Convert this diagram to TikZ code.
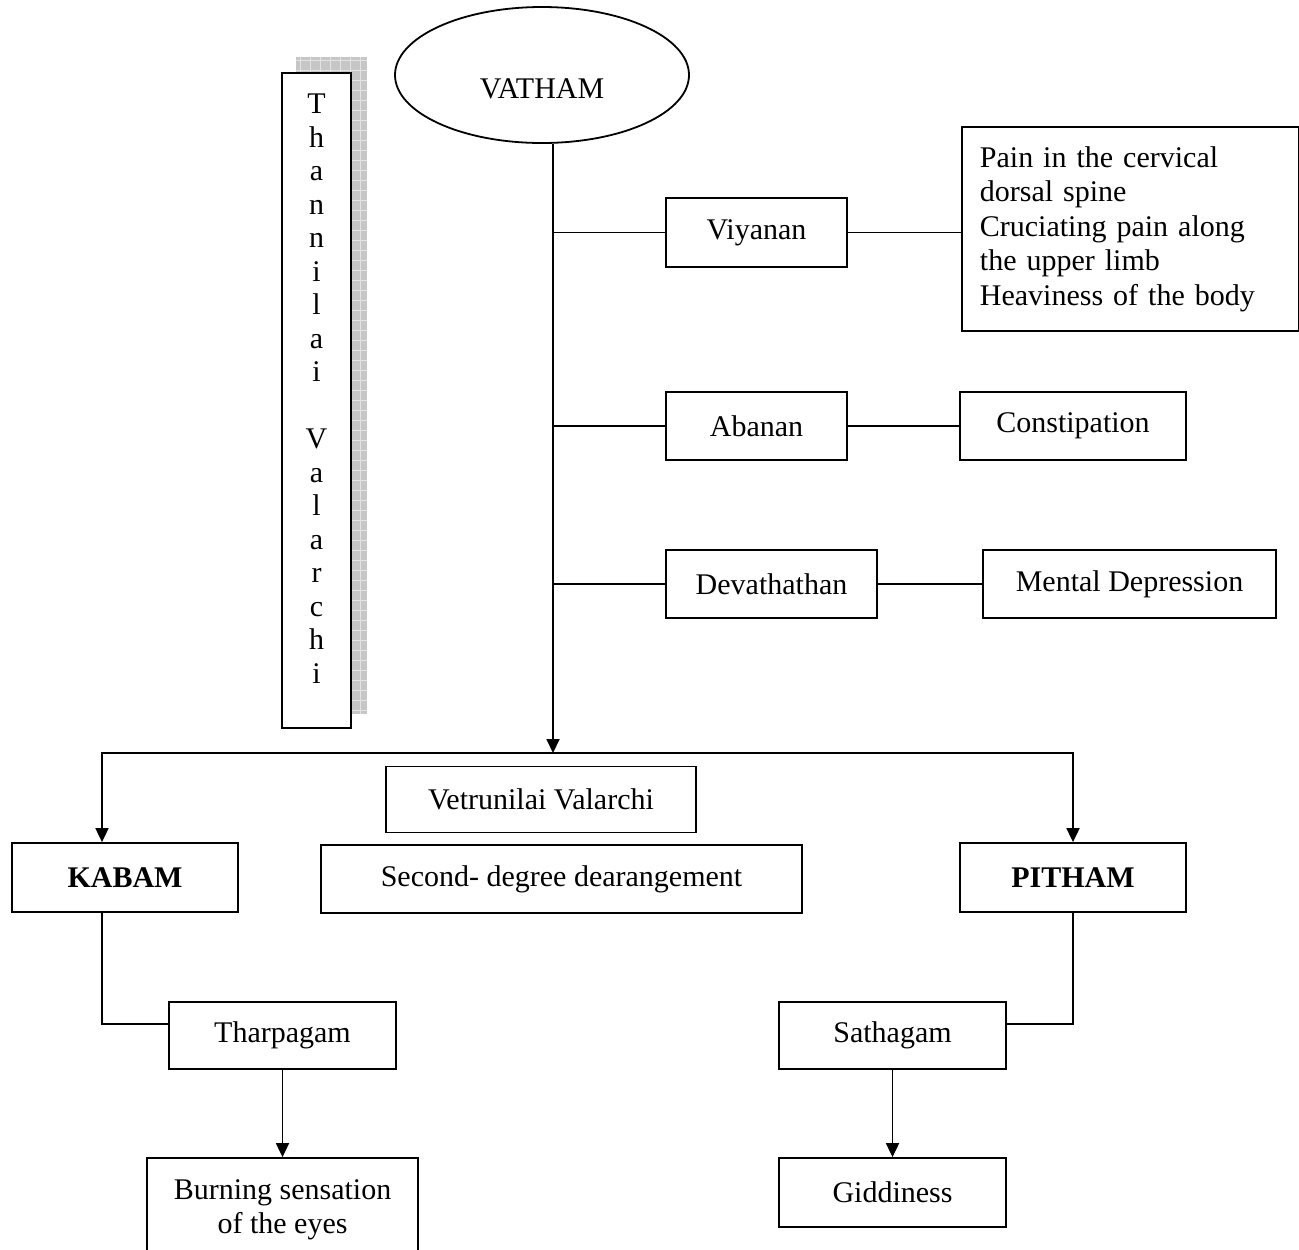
\documentclass[tikz,border=0pt]{standalone}
\usepackage{fontspec}
\setmainfont{Liberation Serif}
\usetikzlibrary{arrows.meta,shapes.geometric,backgrounds}

\begin{document}
\begin{tikzpicture}[x=0.5pt, y=-0.5pt,
        tbox/.style={draw, line width=0.9pt, fill=white, inner sep=0pt, align=center,
                     font=\fontsize{15}{17.25}\selectfont},
        oval/.style={draw, ellipse, line width=0.9pt, inner sep=0pt,
                     font=\fontsize{15}{17.25}\selectfont},
        conn/.style={line width=0.9pt},
        arr/.style={-{Triangle[length=7pt,width=6.5pt]}, line width=0.9pt}
    ]
    \useasboundingbox (0,0) rectangle (1299,1249);
    \node[oval, minimum width=147pt, minimum height=68pt, text height=23pt, text depth=0pt] (vatham) at (542,75) {VATHAM};
    \node[tbox, minimum width=34.5pt, minimum height=327.5pt, font=\fontsize{15}{16.75}\selectfont] (thv) at (316.5,400.5)
        {T\\h\\a\\n\\n\\i\\l\\a\\i\\~\\V\\a\\l\\a\\r\\c\\h\\i\\[-4.75pt]\mbox{}};
    \begin{scope}[on background layer]
        \fill[gray!45] ([shift={(15,-15)}]thv.south west) rectangle ([shift={(15,-15)}]thv.north east);
        \draw[gray!22, line width=0.3pt, step=5pt] ([shift={(15,-15)}]thv.south west) grid ([shift={(15,-15)}]thv.north east);
    \end{scope}
    % vatham branches
    \node[tbox, minimum width=90.5pt, minimum height=34.5pt] (viyanan) at (756.5,232.5) {Viyanan};
    \node[tbox, minimum width=90.5pt, minimum height=34pt] (abanan) at (756.5,426) {Abanan};
    \node[tbox, minimum width=105.5pt, minimum height=34pt] (devathathan) at (771.5,584) {Devathathan};
    \node[tbox, anchor=north west, text width=150.5pt, inner xsep=9pt, minimum height=102pt, align=left] (pain) at (961,126)
        {Pain in the cervical\\dorsal spine\\Cruciating pain along\\the upper limb\\Heaviness of the body};
    \node[tbox, minimum width=113pt, minimum height=34pt] (constipation) at (1073,426) {Constipation};
    \node[tbox, minimum width=146.5pt, minimum height=34pt] (mental) at (1129.5,584) {Mental Depression};
    % second level
    \node[tbox, minimum width=155pt, minimum height=33pt] (vetru) at (541,799.5) {Vetrunilai Valarchi};
    \node[tbox, minimum width=240.5pt, minimum height=34pt] (second) at (561.5,879) {Second- degree dearangement};
    \node[tbox, minimum width=113pt, minimum height=34.5pt] (kabam) at (125,877.5) {\textbf{KABAM}};
    \node[tbox, minimum width=113pt, minimum height=34.5pt] (pitham) at (1073,877.5) {\textbf{PITHAM}};
    \node[tbox, minimum width=113.5pt, minimum height=33.5pt] (tharpagam) at (282.5,1035.5) {Tharpagam};
    \node[tbox, minimum width=113.5pt, minimum height=33.5pt] (sathagam) at (892.5,1035.5) {Sathagam};
    \node[tbox, minimum width=135.5pt, minimum height=52pt] (burning) at (282.5,1210) {Burning sensation\\of the eyes};
    \node[tbox, minimum width=113.5pt, minimum height=34.5pt] (giddiness) at (892.5,1192.5) {Giddiness};
    \coordinate (trunk) at (553,753);
    \draw[arr] (vatham.south -| trunk) -- (trunk);
    \draw[conn] (viyanan.west -| trunk) -- (viyanan.west);
    \draw[conn] (abanan.west -| trunk) -- (abanan.west);
    \draw[conn] (devathathan.west -| trunk) -- (devathathan.west);
    \draw[conn] (viyanan.east) -- (viyanan.east -| pain.west);
    \draw[conn] (abanan.east) -- (constipation.west);
    \draw[conn] (devathathan.east) -- (mental.west);
    \draw[arr] (trunk) -| ([xshift=-11.5pt]kabam.north);
    \draw[arr] (trunk) -| (pitham.north);
    \draw[conn] ([xshift=-11.5pt]kabam.south) |- ([yshift=5.75pt]tharpagam.west);
    \draw[conn] (pitham.south) |- ([yshift=5.75pt]sathagam.east);
    \draw[arr] (tharpagam) -- (burning);
    \draw[arr] (sathagam) -- (giddiness);
\end{tikzpicture}
\end{document}
